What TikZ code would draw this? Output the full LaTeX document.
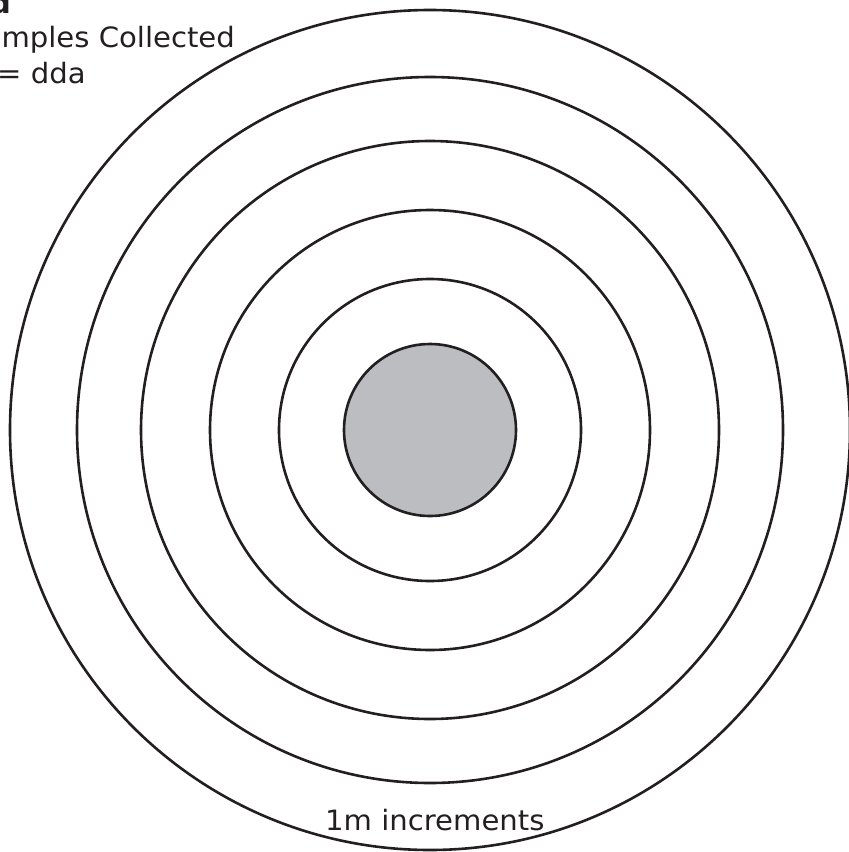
\documentclass[tikz,border=0pt]{standalone}
\usepackage{fontspec}
\setmainfont{DejaVu Sans}
\definecolor{ink}{HTML}{231F20}
\definecolor{core}{HTML}{BCBDC1}
\begin{document}
\begin{tikzpicture}[x=1pt,y=-1pt,
  ring/.style={draw=ink,line width=2.6pt},
  lbl/.style={inner sep=0pt,anchor=base west,text=ink,font=\fontsize{28}{34}\selectfont\addfontfeature{FakeStretch=1.04}}]
\useasboundingbox (0,0) rectangle (849,852);
\coordinate (c) at (430,430);
\foreach \r in {420,353,289,220,151} {
  \draw[ring] (c) circle[radius=\r];
}
\draw[ring,fill=core] (c) circle[radius=86];
\node[lbl,font=\fontsize{29}{35}\selectfont\bfseries] (title) at (-10,13) {d};
\node[lbl] (samples) at (-35,47) {Samples Collected};
\node[lbl] (key) at (-3,83) {= dda};
\node[lbl] (incr) at (325,830) {1m increments};
\end{tikzpicture}
\end{document}
